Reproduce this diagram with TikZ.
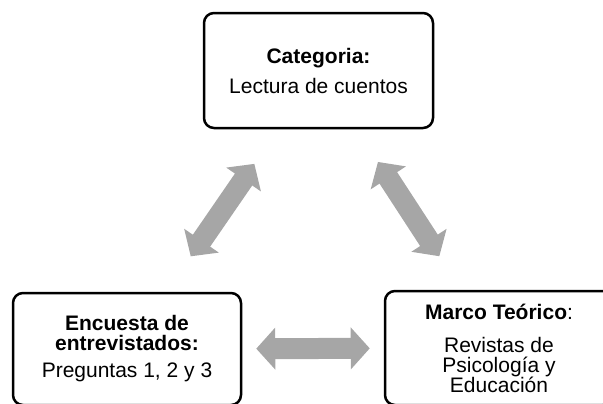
\documentclass[tikz,border=0pt]{standalone}
\usepackage{fontspec}
\setmainfont{Liberation Sans}
\usepackage{tikz}
\usetikzlibrary{arrows.meta}

\definecolor{arrowgray}{RGB}{166,166,166}

\begin{document}
\begin{tikzpicture}[x=0.5pt, y=-0.5pt,
    box/.style={draw, line width=1.25pt, rounded corners=5pt, align=center,
                font=\fontsize{10.5}{10}\selectfont, inner sep=0pt},
    twoway/.style={arrowgray, line width=10.5pt,
                   {Triangle[width=20.5pt, length=9.5pt]}-{Triangle[width=20.5pt, length=9.5pt]}}]
    \useasboundingbox (0,0) rectangle (603,403);
    \clip (0,0) rectangle (603,403);

    \node[box, minimum width=114.5pt, minimum height=57.5pt] (cat) at (318.5,70.5)
        {\textbf{Categoria:}\\[5pt] Lectura de cuentos};
    \node[box, minimum width=114pt, minimum height=56pt] (enc) at (127,349)
        {\textbf{Encuesta de}\\ \textbf{entrevistados:}\\[3.5pt] Preguntas 1, 2 y 3};
    \node[box, minimum width=114pt, minimum height=57pt] (marco) at (499,348)
        {\textbf{Marco Teórico}:\\[6.5pt] Revistas de\\ Psicología y\\ Educación};

    \draw[twoway, shorten <=21.5pt, shorten >=21pt] (enc) -- (cat);
    \draw[twoway, shorten <=19.5pt, shorten >=20pt] (cat) -- (marco);
    \draw[twoway, shorten <=7pt, shorten >=7pt] (enc) -- (marco);
\end{tikzpicture}
\end{document}
